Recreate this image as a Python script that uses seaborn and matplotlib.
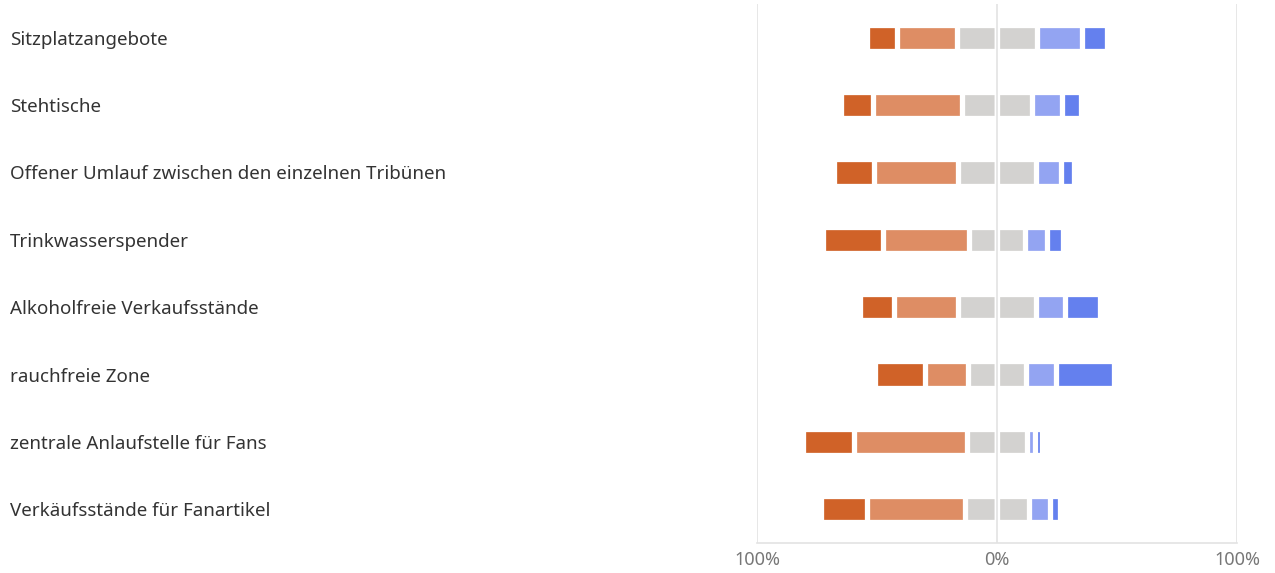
import matplotlib
matplotlib.use("Agg")
import matplotlib.pyplot as plt
import seaborn as sns
import numpy as np

categories = [
    "Sitzplatzangebote",
    "Stehtische",
    "Offener Umlauf zwischen den einzelnen Tribünen",
    "Trinkwasserspender",
    "Alkoholfreie Verkaufsstände",
    "rauchfreie Zone",
    "zentrale Anlaufstelle für Fans",
    "Verkäufsstände für Fanartikel",
]
strong_neg = [12.5, 13.7, 16.7, 25.0, 14.3, 20.8, 21.4, 19.3]
neg = [25.2, 37.0, 35.0, 35.7, 26.6, 17.9, 46.8, 40.7]
neutral = [33.0, 29.0, 32.5, 23.4, 32.5, 24.1, 25.2, 27.0]
pos = [19.1, 12.4, 10.3, 9.3, 12.0, 12.7, 3.3, 8.5]
strong_pos = [10.2, 7.9, 5.5, 6.6, 14.6, 24.2, 3.0, 4.3]

tick_values = [-100, 0, 100]
tick_labels = ["100%", "0%", "100%"]

c_strong_neg = "#D06228"
c_neg = "#DE8D64"
c_neu = "#D3D2D0"
c_pos = "#93A4F2"
c_strong_pos = "#6480EE"

sns.set_theme(style="white")
plt.rcParams["font.family"] = ["Noto Sans", "DejaVu Sans"]

fig = plt.figure(figsize=(12.75, 5.73), dpi=100)
ax = fig.add_axes([757 / 1275, 30 / 573, 480 / 1275, 539 / 573])

sn = np.array(strong_neg)
ng = np.array(neg)
nu = np.array(neutral) / 2
ps = np.array(pos)
sp = np.array(strong_pos)

layers = [
    (-(nu + ng + sn), c_strong_neg),
    (-(nu + ng), c_neg),
    (-nu, c_neu),
    (nu + ps + sp, c_strong_pos),
    (nu + ps, c_pos),
    (nu, c_neu),
]
for vals, col in layers:
    sns.barplot(x=vals, y=categories, orient="h", color=col, saturation=1,
                width=0.39, edgecolor="white", linewidth=3.8, errorbar=None, ax=ax)

ax.set_xlim(-100, 100)
ax.set_xticks(tick_values)
ax.set_xticklabels(tick_labels)
ax.grid(axis="x", color="#E3E3E3", linewidth=1.2)
ax.grid(axis="y", visible=False)
ax.set_axisbelow(False)
for s in ["top", "left", "right"]:
    ax.spines[s].set_visible(False)
ax.spines["bottom"].set_color("#E3E3E3")
ax.spines["bottom"].set_linewidth(1.2)
ax.set_xlabel("")
ax.set_ylabel("")
ax.tick_params(axis="x", length=0, pad=6, labelsize=13, labelcolor="#777777")
ax.tick_params(axis="y", length=0, pad=(757 - 10) * 0.72, labelsize=13.5, labelcolor="#333333")
for lab in ax.get_yticklabels():
    lab.set_horizontalalignment("left")

fig.savefig("out.png", dpi=100, facecolor="white")
